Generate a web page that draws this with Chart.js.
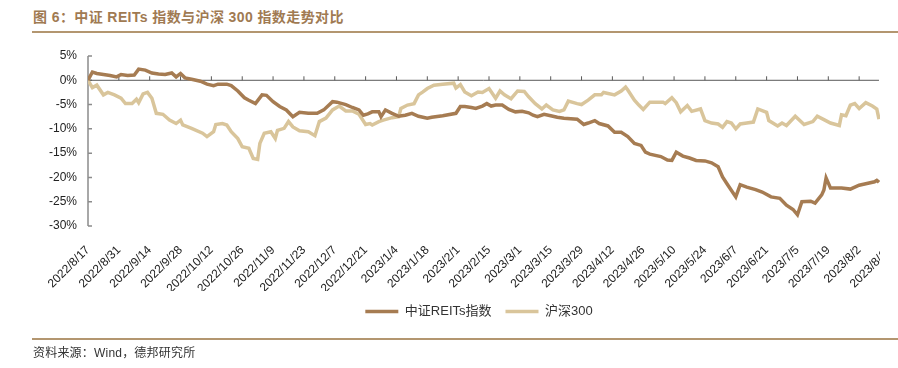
<!DOCTYPE html>
<html>
<head>
<meta charset="utf-8">
<script src="https://cdn.jsdelivr.net/npm/chart.js@4/dist/chart.umd.min.js"></script>
<style>
  body { margin: 0; background: #fff; }
  #wrap { position: relative; width: 898px; height: 368px; overflow: hidden; }
  #title { position: absolute; left: 33px; top: 6px; font: bold 14px "Liberation Sans", "Noto Sans CJK SC", sans-serif; letter-spacing: 0.4px; color: #a07a52; white-space: nowrap; }
  .rule { position: absolute; left: 32px; right: 0; height: 2px; background: #b39670; }
  #source { position: absolute; left: 33px; top: 343px; font: 12px "Liberation Sans", "Noto Sans CJK SC", sans-serif; letter-spacing: 0.2px; color: #333; }
  #myChart { position: absolute; left: 0; top: 0; }
</style>
</head>
<body>
<div id="wrap">
  <div id="title">图 6：中证 REITs 指数与沪深 300 指数走势对比</div>
  <div class="rule" style="top:31px"></div>
  <canvas id="myChart" width="898" height="368"></canvas>
  <div class="rule" style="top:338px"></div>
  <div id="source">资料来源：Wind，德邦研究所</div>
</div>
<script>
// calendar days counted from 2022/8/17
let reitsDays = [0,2,4,7,10,13,15,18,21,23,26,29,32,35,38,40,42,44,47,51,54,57,59,63,65,68,71,73,76,79,81,84,87,90,93,96,100,104,107,111,113,117,120,123,125,127,129,132,133,135,138,141,144,147,150,154,156,161,167,169,171,174,176,179,181,183,185,188,191,194,197,200,202,204,207,210,213,216,222,225,227,230,232,236,239,242,245,248,251,253,255,260,263,265,267,270,273,276,280,283,286,288,290,294,296,299,303,306,310,314,317,320,322,324,328,330,333,334,335,337,342,346,350,353,357,358,359];
let reitsValues = [0,1.7,1.4,1.2,1.0,0.7,1.2,1.0,1.1,2.3,2.1,1.5,1.3,1.2,1.5,0.7,1.4,0.5,0.2,-0.2,-0.8,-1.1,-0.8,-0.8,-1.1,-2.2,-3.6,-4.1,-4.8,-3.0,-3.1,-4.4,-5.4,-6.1,-7.5,-6.6,-6.8,-6.8,-6.1,-4.4,-4.5,-5.0,-5.6,-6.1,-7.2,-6.9,-6.5,-6.5,-7.5,-6.1,-6.8,-7.4,-7.2,-6.8,-7.4,-7.8,-7.6,-7.3,-6.8,-5.4,-5.4,-5.6,-5.8,-5.3,-4.8,-5.3,-5.1,-5.1,-6.0,-6.5,-6.4,-6.7,-7.2,-7.5,-7.0,-7.3,-7.6,-7.8,-8.0,-9.1,-8.8,-8.3,-8.9,-9.4,-10.7,-10.7,-11.6,-13.0,-13.4,-14.8,-15.2,-15.7,-16.4,-16.5,-14.8,-15.6,-16.0,-16.5,-16.6,-17.0,-17.8,-19.9,-21.3,-24.0,-21.5,-22.0,-22.5,-23.0,-24.0,-24.3,-25.7,-26.6,-27.7,-25.0,-24.9,-25.3,-23.6,-22.6,-20.1,-22.2,-22.2,-22.4,-21.6,-21.3,-20.9,-20.6,-21.0];
let hsDays = [0,2,4,7,9,12,15,17,20,22,23,25,27,29,31,34,37,40,42,43,47,52,54,57,58,61,63,65,68,70,73,75,77,78,80,83,85,86,89,91,93,96,100,103,105,108,111,114,117,120,123,126,128,129,132,134,138,141,142,145,148,150,152,154,157,161,166,167,169,171,174,177,179,182,185,187,189,192,195,198,200,203,206,208,211,214,216,218,222,224,227,230,233,234,239,242,244,245,248,250,252,255,261,262,265,267,269,272,274,278,280,283,286,288,290,292,294,296,299,302,304,308,309,313,315,317,321,325,329,331,334,337,341,342,344,346,348,350,353,356,358,359];
let hsValues = [0,-1.5,-1.0,-3.0,-2.5,-3.0,-3.7,-4.8,-4.8,-3.9,-4.6,-2.8,-2.5,-3.7,-6.8,-7.0,-8.2,-8.9,-8.2,-9.2,-9.9,-10.9,-11.6,-10.6,-9.1,-8.9,-9.2,-10.6,-12.0,-13.7,-14.0,-16.1,-16.3,-13.0,-10.9,-10.6,-12.0,-10.3,-9.9,-8.5,-9.6,-10.4,-10.6,-11.4,-8.5,-7.8,-6.1,-5.3,-6.3,-6.3,-7.0,-9.1,-8.9,-9.2,-8.5,-8.2,-7.7,-7.5,-5.8,-5.1,-4.8,-3.0,-2.4,-1.7,-1.0,-0.8,-0.6,-1.6,-0.9,-2.4,-3.2,-2.4,-2.5,-1.7,-3.7,-2.2,-3.0,-3.8,-2.2,-2.3,-3.4,-4.8,-5.9,-5.1,-6.1,-6.4,-6.1,-4.3,-4.8,-5.0,-4.1,-3.0,-3.0,-2.5,-3.0,-2.2,-1.4,-2.0,-4.1,-5.1,-6.0,-4.5,-4.5,-4.8,-3.6,-4.6,-6.5,-5.2,-6.4,-5.9,-8.3,-8.8,-9.0,-9.7,-8.5,-8.8,-10.0,-9.0,-8.8,-8.6,-5.9,-6.6,-8.3,-9.4,-8.8,-9.3,-7.4,-9.1,-8.5,-7.4,-8.1,-8.8,-9.3,-7.1,-7.3,-5.1,-4.8,-5.8,-4.6,-5.3,-5.9,-8.0];
let seriesNames = ['中证REITs指数', '沪深300'];
let seriesColors = ['#a67c52', '#d9c59b'];
let yTicks = [5, 0, -5, -10, -15, -20, -25, -30];
let tickStepDays = 14;
let lastTickDay = 364;

let lastDay = reitsDays[reitsDays.length - 1];
let fontFamily = '"Liberation Sans", "Noto Sans CJK SC", sans-serif';

let toPoints = (days, values) => days.map((d, i) => ({x: d, y: values[i]}));
let dayLabel = (d) => {
  let dt = new Date(2022, 7, 17 + d);
  return dt.getFullYear() + '/' + (dt.getMonth() + 1) + '/' + dt.getDate();
};

// axis line, inner ticks and the zero line with upward ticks
let axisLines = {
  id: 'axisLines',
  afterLayout(chart) {
    // widen the label areas so the tick labels are not cut by the narrow boxes
    chart.scales.y.left = 0;
    chart.scales.x.bottom = chart.legend.top;
  },
  beforeDraw(chart) {
    let {ctx, scales: {x}} = chart;
    ctx.save();
    ctx.beginPath();
    ctx.rect(0, 0, x.getPixelForValue(lastDay) + 1, chart.height);
    ctx.clip();
  },
  beforeDatasetsDraw(chart) {
    let {ctx, scales: {x, y}} = chart;
    let x0 = x.getPixelForValue(0);
    let xEnd = x.getPixelForValue(lastDay);
    let y0 = y.getPixelForValue(0);
    ctx.save();
    ctx.strokeStyle = '#8c8c8c';
    ctx.lineWidth = 1.5;
    ctx.beginPath();
    ctx.moveTo(x0, y.getPixelForValue(yTicks[0]));
    ctx.lineTo(x0, y.getPixelForValue(yTicks[yTicks.length - 1]));
    yTicks.forEach(v => {
      let p = y.getPixelForValue(v);
      ctx.moveTo(x0, p);
      ctx.lineTo(x0 + 4, p);
    });
    ctx.stroke();
    ctx.strokeStyle = '#595959';
    ctx.lineWidth = 1;
    ctx.beginPath();
    ctx.moveTo(x0, y0);
    ctx.lineTo(xEnd, y0);
    x.ticks.forEach(t => {
      if (t.value > 0 && t.value <= lastDay) {
        let p = x.getPixelForValue(t.value);
        ctx.moveTo(p, y0);
        ctx.lineTo(p, y0 - 4);
      }
    });
    ctx.stroke();
    ctx.restore();
  },
  afterDraw(chart) {
    chart.ctx.restore();
  }
};

let ctx = document.getElementById('myChart').getContext('2d');
let chart = new Chart(ctx, {
  type: 'line',
  data: {
    datasets: [{
      label: seriesNames[0],
      data: toPoints(reitsDays, reitsValues),
      borderColor: seriesColors[0],
      backgroundColor: seriesColors[0],
      borderWidth: 3.5,
      pointRadius: 0,
      tension: 0
    }, {
      label: seriesNames[1],
      data: toPoints(hsDays, hsValues),
      borderColor: seriesColors[1],
      backgroundColor: seriesColors[1],
      borderWidth: 3.5,
      pointRadius: 0,
      tension: 0
    }]
  },
  options: {
    responsive: false,
    animation: false,
    layout: {padding: {top: 56, right: 8, bottom: 40, left: 68}},
    plugins: {
      tooltip: {enabled: false},
      legend: {
        position: 'bottom',
        labels: {
          usePointStyle: true,
          pointStyle: 'line',
          pointStyleWidth: 33,
          padding: 14,
          color: '#333',
          font: {size: 13, family: fontFamily}
        }
      }
    },
    scales: {
      x: {
        type: 'linear',
        min: 0,
        max: lastTickDay,
        grid: {display: false, drawTicks: false},
        border: {display: false},
        ticks: {
          stepSize: tickStepDays,
          autoSkip: false,
          maxRotation: 45,
          minRotation: 45,
          padding: 17,
          color: '#222',
          font: {size: 12, family: fontFamily},
          callback: (v) => dayLabel(v)
        },
        afterFit: (scale) => {
          scale.height = 65;
          scale.paddingLeft = 0;
          scale.paddingRight = 0;
        }
      },
      y: {
        min: -30,
        max: 5,
        grid: {display: false, drawTicks: false},
        border: {display: false},
        ticks: {
          stepSize: 5,
          padding: 11,
          color: '#222',
          font: {size: 12, family: fontFamily},
          callback: (v) => v + '%'
        },
        afterFit: (scale) => { scale.width = 20; }
      }
    }
  },
  plugins: [axisLines]
});
</script>
</body>
</html>
